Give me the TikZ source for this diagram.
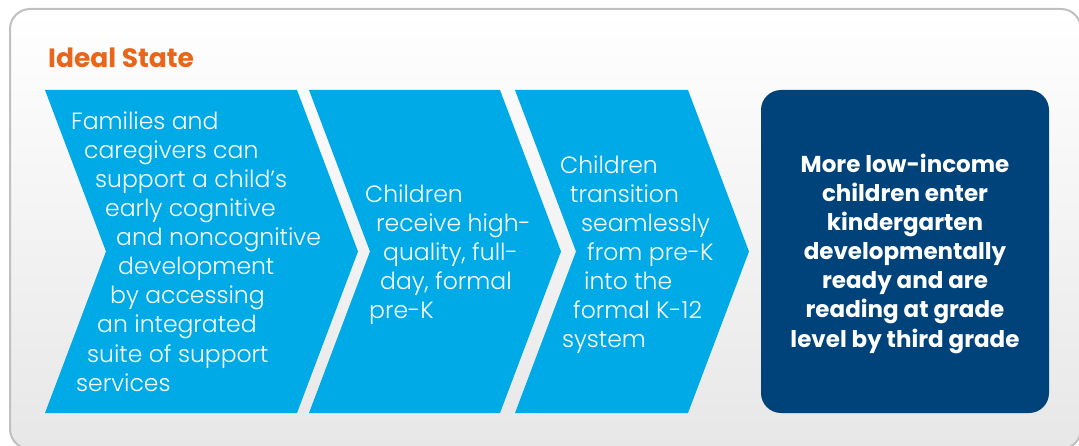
\documentclass[tikz,border=0pt]{standalone}
\usepackage{fontspec}
\IfFontExistsTF{Poppins Light}
  {\newfontfamily\stepfont{Poppins Light}}
  {\newfontfamily\stepfont{Poppins}}
\newfontfamily\headfont{Poppins}
\usetikzlibrary{positioning}

\definecolor{stepblue}{RGB}{0,170,231}
\definecolor{goalnavy}{RGB}{0,67,122}
\definecolor{headorange}{RGB}{232,101,26}
\definecolor{framegray}{RGB}{192,192,192}
\definecolor{panelgray}{RGB}{232,231,232}

\tikzset{
  panel/.style    = {draw=framegray, line width=2pt, rounded corners=20pt,
                     top color=white, bottom color=panelgray},
  chevron/.style  = {fill=stepblue},
  goalbox/.style  = {fill=goalnavy, rounded corners=20pt,
                     minimum width=288pt, minimum height=323pt},
  steptext/.style = {anchor=base west, inner sep=0pt, text=white,
                     font=\stepfont\fontsize{23.5}{28}\selectfont},
  goaltext/.style = {anchor=base, inner sep=0pt, text=white,
                     font=\headfont\bfseries\fontsize{23}{28}\selectfont},
  headtext/.style = {anchor=base west, inner sep=0pt, text=headorange,
                     font=\headfont\bfseries\fontsize{26.5}{30}\selectfont},
}

\begin{document}
\begin{tikzpicture}[x=1pt, y=-1pt]
    \useasboundingbox (0,0) rectangle (1079,446);

    % Panel behind everything
    \begin{scope}
        \clip (0,0) rectangle (1079,446);
        \path[panel] (10,9) rectangle (1081,449);
    \end{scope}

    \node[headtext] (head) at (48,68) {Ideal State};

    % Three steps as chevrons
    \foreach \l/\r in {45/297, 309/500, 515/688} {
        \fill[chevron] (\l,90) -- (\r,90) -- (\r+61,251.5) -- (\r,413)
            -- (\l,413) -- (\l+61,251.5) -- cycle;
    }

    % Step 1
    \foreach \x/\y/\t [count=\n] in {
        71/130/Families and, 84/159/caregivers can,
        95/188/support a child’s, 105/217/early cognitive,
        116/246/and noncognitive, 118/275/development,
        110/304/by accessing, 97/333/an integrated,
        87/362/suite of support, 76/391/services} {
        \node[steptext] (s1-\n) at (\x,\y) {\t};
    }

    % Step 2
    \foreach \x/\y/\t [count=\n] in {
        365/203/Children, 376/232/receive high-,
        383/261/{quality, full-}, 380/290/{day, formal},
        369/319/pre-K} {
        \node[steptext] (s2-\n) at (\x,\y) {\t};
    }

    % Step 3
    \foreach \x/\y/\t [count=\n] in {
        560/174/Children, 570/203/transition,
        581/232/seamlessly, 587/261/from pre-K,
        584/290/into the, 573/319/formal K-12,
        562/348/system} {
        \node[steptext] (s3-\n) at (\x,\y) {\t};
    }

    % Outcome
    \node[goalbox] (goal) at (905,251.5) {};
    \foreach \y/\t [count=\n] in {
        173/More low-income, 202/children enter,
        231/kindergarten, 260/developmentally,
        289/ready and are, 318/reading at grade,
        347/level by third grade} {
        \node[goaltext] (g-\n) at (905,\y) {\t};
    }
\end{tikzpicture}
\end{document}
